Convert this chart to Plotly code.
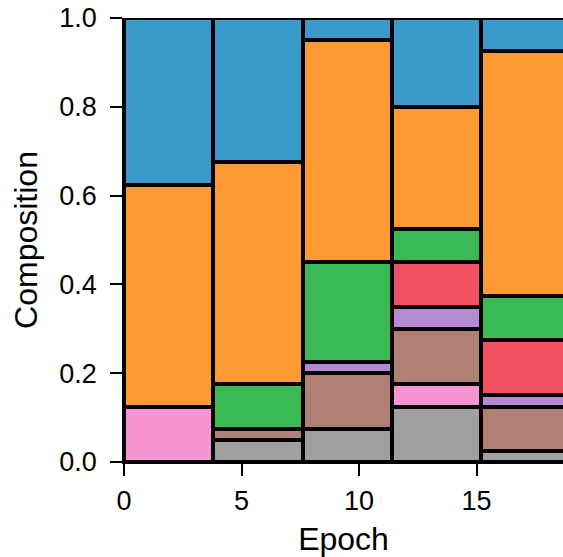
import plotly.graph_objects as go

# Epoch bins (left edge of each bin) and bin width
epoch_starts = [0.0, 3.8, 7.6, 11.4, 15.2]
bin_width = 3.8

# Composition of each bin, stacked bottom to top
components = ["Gray", "Pink", "Brown", "Purple", "Red", "Green", "Orange", "Blue"]
gray   = [None,  0.05,  0.075, 0.125, 0.025]
pink   = [0.125, None,  None,  0.05,  None]
brown  = [None,  0.025, 0.125, 0.125, 0.10]
purple = [None,  None,  0.025, 0.05,  0.025]
red    = [None,  None,  None,  0.10,  0.125]
green  = [None,  0.10,  0.225, 0.075, 0.10]
orange = [0.50,  0.50,  0.50,  0.275, 0.55]
blue   = [0.375, 0.325, 0.05,  0.20,  0.075]

series = [gray, pink, brown, purple, red, green, orange, blue]
colors = ["#a0a0a0", "#f794d4", "#b08075", "#b48bd3",
          "#f0515f", "#3aba55", "#fe9a33", "#3c9acb"]

centers = [s + bin_width / 2 for s in epoch_starts]

fig = go.Figure()
for name, vals, col in zip(components, series, colors):
    fig.add_trace(go.Bar(
        x=centers, y=vals, width=bin_width, name=name,
        marker=dict(color=col, line=dict(color="black", width=4)),
        showlegend=False,
    ))

font = dict(family="Liberation Sans, Arial, sans-serif", size=27, color="black")

fig.update_layout(
    barmode="stack",
    width=563, height=557,
    margin=dict(l=124, r=0, t=18, b=95),
    paper_bgcolor="white", plot_bgcolor="white",
    font=font,
)
fig.update_xaxes(
    range=[0, 18.68], tickvals=[0, 5, 10, 15],
    ticks="outside", ticklen=12, tickwidth=1.5, tickcolor="black",
    ticklabelstandoff=2,
    showline=True, linecolor="black", linewidth=1.5,
    showgrid=False, zeroline=False,
    title=dict(text="Epoch", standoff=15),
)
fig.update_yaxes(
    range=[0, 1], tickvals=[0, 0.2, 0.4, 0.6, 0.8, 1.0], tickformat=".1f",
    ticks="outside", ticklen=12, tickwidth=1.5, tickcolor="black",
    ticklabelstandoff=8,
    showline=True, linecolor="black", linewidth=1.5,
    showgrid=False, zeroline=False,
    title=dict(text="Composition", standoff=12),
)

fig.write_html("out.html")
